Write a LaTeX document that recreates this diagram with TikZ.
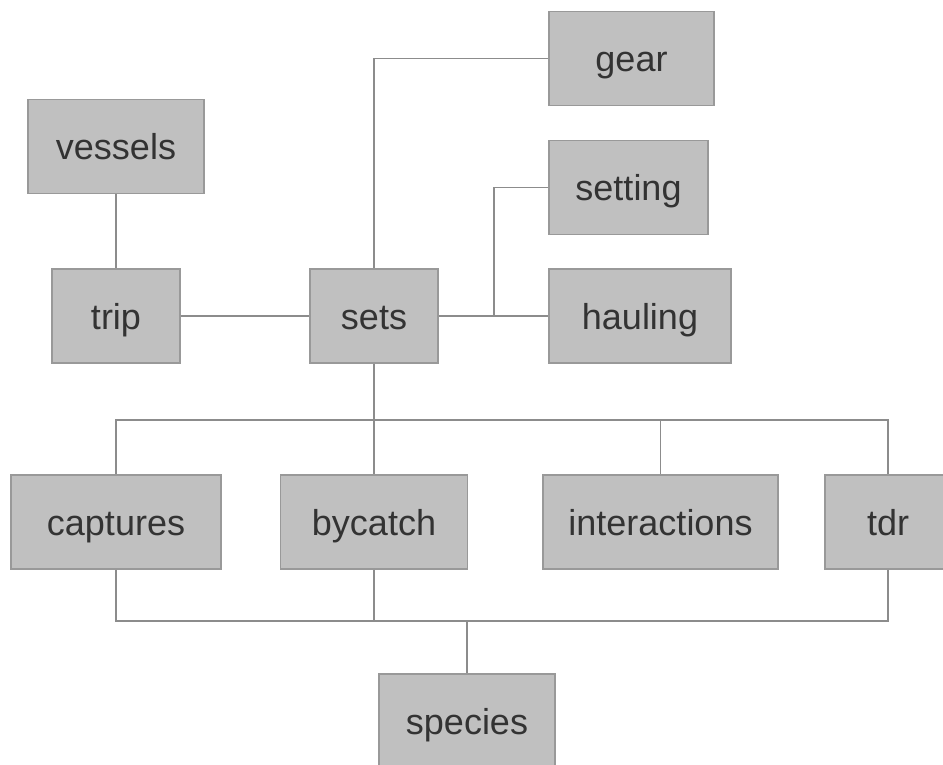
\documentclass[tikz,border=0pt]{standalone}
\usepackage{fontspec}
\setmainfont{Liberation Sans}
\definecolor{boxfill}{HTML}{C0C0C0}
\definecolor{boxline}{HTML}{999999}
\definecolor{linkline}{HTML}{8C8C8C}
\definecolor{labeltext}{HTML}{333333}
\begin{document}
\begin{tikzpicture}[x=1pt,y=-1pt,
  tbl/.style={draw=boxline, line width=1.4pt, fill=boxfill, text=labeltext,
    font=\fontsize{36}{40}\selectfont, inner sep=0pt, minimum height=94pt,
    text height=26pt, text depth=0pt},
  link/.style={draw=linkline, line width=1.5pt}]
\path[use as bounding box] (0,0) rectangle (943,765);
\clip (0,0) rectangle (943,765);

% tables
\node[tbl, minimum width=165pt] (gear)         at (631.5,58.5) {gear};
\node[tbl, minimum width=176pt] (vessels)      at (116,146.5)  {vessels};
\node[tbl, minimum width=159pt] (setting)      at (628.5,187.5){setting};
\node[tbl, minimum width=128pt] (trip)         at (116,316)    {trip};
\node[tbl, minimum width=128pt] (sets)         at (374,316)    {sets};
\node[tbl, minimum width=182pt] (hauling)      at (640,316)    {hauling};
\node[tbl, minimum width=210pt] (captures)     at (116,522)    {captures};
\node[tbl, minimum width=187pt] (bycatch)      at (374,522)    {bycatch};
\node[tbl, minimum width=235pt] (interactions) at (660.5,522)  {interactions};
\node[tbl, minimum width=126pt] (tdr)          at (888,522)    {tdr};
\node[tbl, minimum width=176pt] (species)      at (467,721)    {species};

% junction points
\coordinate (gearbend) at (374,58.5);
\coordinate (setjoin)  at (494,316);
\coordinate (topbus)   at (374,420);
\coordinate (botbus)   at (467,621);

% links
\draw[link] (vessels.south) -- (trip.north);
\draw[link] (trip.east) -- (sets.west);
\draw[link] (sets.east) -- (hauling.west);
\draw[link] (gear.west) -- (gearbend) -- (sets.north);
\draw[link] (setting.west) -| (setjoin);

\draw[link] (sets.south) -- (topbus);
\draw[link] (captures.north) |- (topbus);
\draw[link] (tdr.north) |- (topbus);
\draw[link] (topbus) -- (bycatch.north);
\draw[link] (interactions.north) -- (interactions.north |- topbus);

\draw[link] (captures.south) |- (botbus);
\draw[link] (tdr.south) |- (botbus);
\draw[link] (bycatch.south) -- (bycatch.south |- botbus);
\draw[link] (botbus) -- (species.north);
\end{tikzpicture}
\end{document}
